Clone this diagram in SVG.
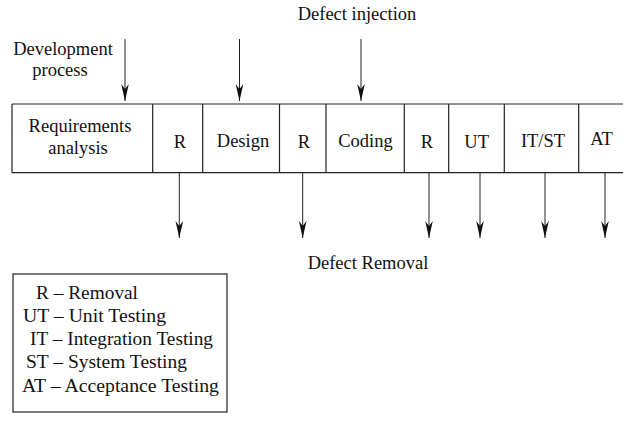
<svg xmlns="http://www.w3.org/2000/svg" width="623" height="422" viewBox="0 0 623 422">
<style>
text{font-family:"Liberation Serif","Times New Roman",serif;font-size:18.5px;fill:#111;}
.c{text-anchor:middle;}
.ln{stroke:#222;stroke-width:1.2;fill:none;}
.ar{stroke:#222;stroke-width:1;fill:none;marker-end:url(#ah);}
</style>
<defs>
<marker id="ah" markerUnits="userSpaceOnUse" markerWidth="10" markerHeight="20" viewBox="-5 -18 10 20" refX="0" refY="0" orient="auto-start-reverse" overflow="visible">
<path d="M0,0 L-3.8,-17 L0,-12 L3.8,-17 Z" fill="#111" transform="rotate(-90)"/>
</marker>
</defs>
<rect width="623" height="422" fill="#fff"/>
<g id="labels">
<text class="c" x="357" y="20">Defect injection</text>
<text class="c" x="63" y="55">Development</text>
<text class="c" x="60" y="76">process</text>
<text class="c" x="368" y="269">Defect Removal</text>
</g>
<g id="stages">
<path class="ln" d="M12,104 H623 M12,172.7 H623 M12,104 V172.7 M152.7,104 V172.7 M202.7,104 V172.7 M279.5,104 V172.7 M326,104 V172.7 M404.3,104 V172.7 M448.7,104 V172.7 M504.3,104 V172.7 M578.7,104 V172.7"/>
<g id="req"><text class="c" x="80" y="132">Requirements</text><text class="c" x="78" y="154">analysis</text></g>
<g id="r1"><text class="c" x="180" y="148">R</text></g>
<g id="design"><text class="c" x="243" y="147">Design</text></g>
<g id="r2"><text class="c" x="304" y="148">R</text></g>
<g id="coding"><text class="c" x="365.5" y="147">Coding</text></g>
<g id="r3"><text class="c" x="427" y="148">R</text></g>
<g id="ut"><text class="c" x="476.7" y="148">UT</text></g>
<g id="itst"><text class="c" x="543" y="147">IT/ST</text></g>
<g id="at"><text class="c" x="601.5" y="145">AT</text></g>
</g>
<g id="connectors">
<line class="ar" x1="125" y1="39" x2="125" y2="101"/>
<line class="ar" x1="239.5" y1="39" x2="239.5" y2="101"/>
<line class="ar" x1="361" y1="39" x2="361" y2="101"/>
<line class="ar" x1="179.3" y1="173" x2="179.3" y2="238"/>
<line class="ar" x1="302.7" y1="173" x2="302.7" y2="238"/>
<line class="ar" x1="429" y1="173" x2="429" y2="238"/>
<line class="ar" x1="480" y1="173" x2="480" y2="238"/>
<line class="ar" x1="545" y1="173" x2="545" y2="238"/>
<line class="ar" x1="605" y1="173" x2="605" y2="238"/>
</g>
<g id="legend">
<rect class="ln" x="13" y="274" width="214" height="138"/>
<text x="36" y="299" textLength="102" lengthAdjust="spacingAndGlyphs">R – Removal</text>
<text x="23" y="322" textLength="143" lengthAdjust="spacingAndGlyphs">UT – Unit Testing</text>
<text x="30" y="345" textLength="183" lengthAdjust="spacingAndGlyphs">IT – Integration Testing</text>
<text x="26" y="368" textLength="161" lengthAdjust="spacingAndGlyphs">ST – System Testing</text>
<text x="22" y="392" textLength="197" lengthAdjust="spacingAndGlyphs">AT – Acceptance Testing</text>
</g>
</svg>
